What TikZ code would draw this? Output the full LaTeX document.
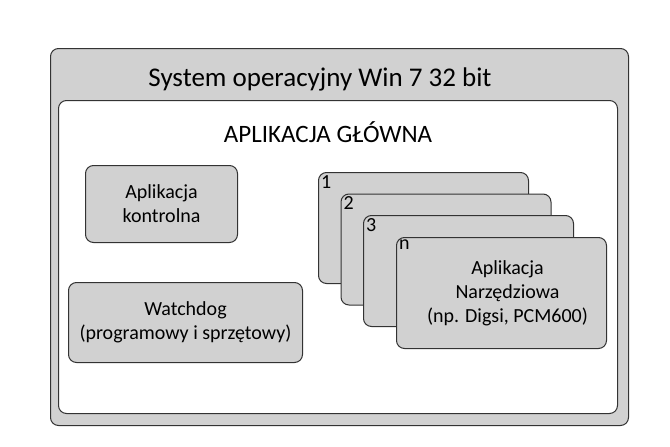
\documentclass[tikz,border=0pt]{standalone}
\usepackage{fontspec}
\setmainfont{Carlito}
\begin{document}
\begin{tikzpicture}[x=1pt, y=-1pt,
  box/.style={draw=black!80, line width=1pt, rounded corners=8pt, fill=black!18},
  lbl/.style={font=\fontsize{20}{24}\selectfont, align=center}]
\useasboundingbox (0,0) rectangle (670,447);
\node[box, minimum width=578pt, minimum height=377pt, anchor=north west] (os) at (50,48) {};
\node[font=\fontsize{27}{32}\selectfont] (ostitle) at (320,79) {System operacyjny Win 7 32 bit};
\node[draw=black!80, line width=1pt, rounded corners=8pt, fill=white, minimum width=559pt, minimum height=313pt, anchor=north west] (app) at (58,100) {};
\node[font=\fontsize{25}{30}\selectfont] (apptitle) at (328,132) {APLIKACJA GŁÓWNA};
\node[box, minimum width=152pt, minimum height=77pt, anchor=north west] (ctrl) at (85,165) {};
\node[lbl] at (ctrl.center) {Aplikacja\\kontrolna};
\node[box, minimum width=234pt, minimum height=80pt, anchor=north west] (wd) at (68,282) {};
\node[lbl] at (wd.center) {Watchdog\\(programowy i sprzętowy)};
\foreach \i/\t in {0/1,1/2,2/3} {
  \node[box, minimum width=210pt, minimum height=111pt, anchor=north west] (tool\t) at (318+\i*22.5,172+\i*21.5) {};
  \node[lbl, anchor=north west, inner sep=3pt] at (tool\t.north west) {\t};
}
\node[box, minimum width=210pt, minimum height=111pt, anchor=north west] (tooln) at (396,237) {};
\node[lbl, anchor=north west, inner sep=3pt] at (tooln.north west) {n};
\node[lbl] at ([xshift=6pt]tooln.center) {Aplikacja\\Narzędziowa\\(np. Digsi, PCM600)};
\end{tikzpicture}
\end{document}
